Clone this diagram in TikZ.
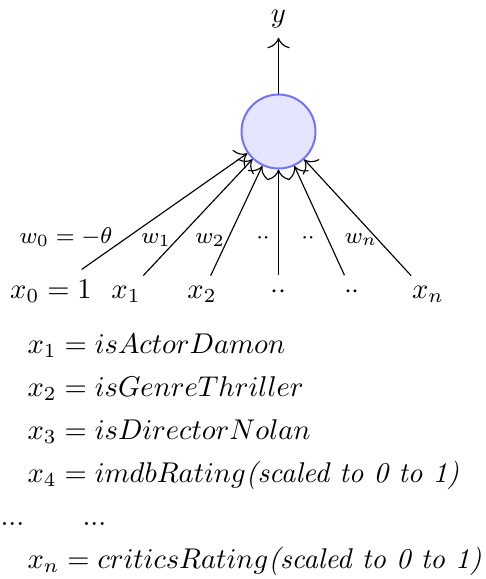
\documentclass[tikz,border=0pt]{standalone}
\usetikzlibrary{arrows.meta}
\begin{document}
\begin{tikzpicture}[x=0.35pt,y=-0.35pt,
  neuron/.style={circle,draw=blue!55,fill=blue!10,line width=0.7pt,minimum size=25.9pt,inner sep=0pt},
  inp/.style={anchor=base},
  wlab/.style={anchor=base,font=\footnotesize},
  eqline/.style={anchor=base west,inner sep=0pt},
  conn/.style={-{To[scale=1.5]}}]
\useasboundingbox (0,0) rectangle (486,579);
% neuron and output
\node[neuron] (n) at (278.5,131.5) {};
\node[inp] (y) at (278.5,22) {$y$};
\draw[conn] (n) -- (y);
% inputs
\node[inp] (x0) at (51,298) {$x_0=1$};
\node[inp] (x1) at (126,298) {$x_1$};
\node[inp] (x2) at (202,298) {$x_2$};
\node[inp] (x3) at (278.5,298) {$\cdot\cdot$};
\node[inp] (x4) at (352,298) {$\cdot\cdot$};
\node[inp] (xn) at (428,298) {$x_n$};
\foreach \i in {x0,x1,x2,x3,x4,xn}{\draw[conn] (\i) -- (n);}
% weights
\node[wlab] (w0) at (66,243) {$w_0=-\theta$};
\node[wlab] (w1) at (156,243) {$w_1$};
\node[wlab] (w2) at (210,243) {$w_2$};
\node[wlab] (w3) at (263,243) {$\cdot\cdot$};
\node[wlab] (w4) at (308,243) {$\cdot\cdot$};
\node[wlab] (wn) at (361,243) {$w_n$};
% feature list
\node[eqline] (e1) at (27,353) {$x_1 = isActorDamon$};
\node[eqline] (e2) at (27,396) {$x_2 = isGenreThriller$};
\node[eqline] (e3) at (27,439) {$x_3 = isDirectorNolan$};
\node[eqline] (e4) at (27,482) {$x_4 = imdbRating\textit{(scaled to 0 to 1)}$};
\node[eqline] (d1) at (0,525) {$...$};
\node[eqline] (d2) at (82,525) {$...$};
\node[eqline] (e5) at (27,568) {$x_n = criticsRating\textit{(scaled to 0 to 1)}$};
\end{tikzpicture}
\end{document}
